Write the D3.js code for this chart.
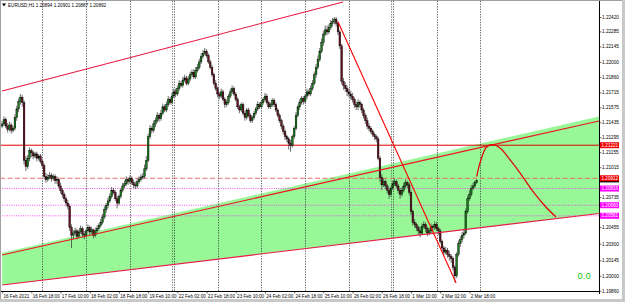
<!DOCTYPE html>
<html>
<head>
<meta charset="utf-8">
<script src="https://cdn.jsdelivr.net/npm/d3@7"></script>
<style>
  html, body { margin: 0; padding: 0; background: #fff; }
  svg { display: block; font-family: "Liberation Sans", Arial, sans-serif; }
</style>
</head>
<body>
<div id="chart"></div>
<script>
// EURUSD H1, 16 Feb 02:00 .. 2 Mar 22:00, prices in pips above 1.20000
const base = 1.2;
const firstOpen = 140;
const closes = [
  142,146,140,137,141,136,138,148,156,163,167,162,
  108,102,110,117,115,112,114,110,112,107,103,93,
  90,92,94,91,93,89,90,84,80,76,72,68,
  65,45,38,40,42,37,41,44,39,38,42,45,
  41,43,38,42,44,47,50,55,62,66,70,
  74,80,78,72,68,74,80,84,86,90,88,91,
  87,85,84,88,90,92,93,100,108,130,138,136,
  142,145,150,147,152,158,155,160,165,162,168,172,
  170,175,180,178,183,185,180,184,188,190,186,192,
  195,200,205,208,210,206,200,195,188,180,175,170,
  168,172,165,160,162,168,172,175,170,165,158,155,
  160,152,148,155,150,145,148,152,156,160,158,
  162,165,168,162,158,160,164,160,155,150,145,140,
  135,130,128,124,122,130,138,150,158,162,166,163,
  168,172,170,175,180,188,195,202,210,218,226,230,
  228,232,236,238,240,236,228,215,182,178,175,172,
  170,168,165,160,158,162,160,155,150,145,140,138,
  135,132,130,128,110,92,85,88,84,80,76,82,
  86,88,84,80,76,80,84,87,85,78,60,50,
  48,45,42,40,46,48,44,40,42,46,45,
  48,44,42,32,26,22,24,20,18,16,8,0,
  20,30,34,38,40,60,72,76,82,84,87,89
];
const highs = [
  145,149,148,143,144,143,140,151,159,166,170,169,
  164,112,113,120,119,117,116,116,114,114,109,105,
  96,95,97,96,95,95,93,92,87,82,78,74,
  71,67,48,43,45,44,43,47,46,42,44,48,
  47,46,44,45,47,49,53,58,65,68,73,
  77,83,82,80,75,76,82,87,89,93,92,94,
  93,90,88,91,93,95,96,104,112,133,141,140,
  145,148,153,152,155,161,160,163,168,167,171,175,
  175,178,183,182,186,188,187,187,191,193,193,195,
  198,203,208,211,213,212,208,202,197,190,183,177,
  172,175,174,167,165,170,175,178,177,172,167,160,
  162,162,154,157,157,152,150,154,158,163,162,
  164,167,171,170,164,162,166,166,162,157,152,147,
  142,137,132,130,127,132,140,153,160,165,168,168,
  170,175,174,178,183,191,198,206,213,222,229,234,
  234,235,239,241,242,242,238,230,217,185,181,178,
  175,173,171,167,163,165,164,162,157,152,148,143,
  140,137,134,132,130,112,95,91,90,86,82,84,
  89,91,90,86,82,83,87,90,89,87,80,62,
  53,50,47,46,49,51,50,46,45,49,48,
  51,50,46,44,34,28,27,26,23,20,18,10,
  22,33,37,41,44,63,75,80,85,87,89,90
];
const lows = [
  138,140,138,134,135,133,134,136,145,153,160,158,
  104,98,100,107,111,109,110,107,108,105,100,90,
  87,88,90,88,89,86,86,82,77,73,69,65,
  62,42,26,34,37,34,35,39,36,34,36,40,
  38,39,35,36,40,42,45,48,53,59,63,
  68,72,76,70,63,66,72,78,82,84,85,86,
  85,82,81,82,86,88,90,91,98,106,128,133,
  134,139,143,144,145,150,153,153,158,160,160,166,
  167,168,173,176,176,181,178,178,182,186,184,184,
  190,193,198,203,206,204,198,193,186,178,173,167,
  165,166,163,157,158,160,166,170,168,163,156,152,
  153,150,145,146,148,143,143,146,150,154,156,
  156,160,163,160,156,156,158,158,153,148,143,137,
  132,127,125,118,116,120,128,136,148,155,160,160,
  161,165,168,168,173,178,185,193,200,208,215,224,
  225,226,230,233,235,233,225,212,179,174,172,168,
  167,165,162,157,155,155,157,152,147,142,137,135,
  133,130,127,125,108,88,80,83,81,77,72,74,
  80,84,82,77,72,74,78,82,82,75,57,47,
  45,42,38,36,38,44,41,37,38,40,42,
  43,42,38,30,23,19,20,17,14,12,5,-6,
  -2,18,27,31,35,38,58,70,74,80,82,86
];

// time axis
const timeBars = [0,16,32,48,64,80,96,112,128,144,160,176,192,208,224,240,256];
const timeLabels = ['16 Feb 2021','16 Feb 18:00','17 Feb 10:00','18 Feb 02:00','18 Feb 18:00',
  '19 Feb 10:00','22 Feb 02:00','22 Feb 18:00','23 Feb 10:00','24 Feb 02:00','24 Feb 18:00',
  '25 Feb 10:00','26 Feb 02:00','26 Feb 18:00','1 Mar 10:00','2 Mar 02:00','2 Mar 18:00'];
const dayBars = [22,46,70,94,118,142,166,190,214,238,262];
const weekBars = [94,214];

// price axis (labels hidden behind the level tags are left out)
const priceTicks = [1.22420,1.22285,1.22145,1.22000,1.21860,1.21715,1.21575,1.21435,1.21295,
  1.21155,1.21015,1.20735,1.20455,1.20300,1.20145,1.20000,1.19860];

// horizontal levels
const levelPrices = [1.21221, 1.20912, 1.20816, 1.20660, 1.20561];
const bidPrice = 1.20892;

// trend lines [bar, price]
const upperLeftLine = [[0, 1.21728], [186.8, 1.22560]];
const fallLine = [[184.0, 1.22376], [248.7, 1.19933]];
const channelTop = [[0, 1.20195], [327, 1.21448]];
const channelBottom = [[0, 1.19914], [327, 1.20583]];
const fillTop = [[0, 1.20215], [327, 1.21490]];
// projected path [bar, price]
const projection = [[260.0, 1.20927], [261.8, 1.21055], [265.5, 1.21207], [268.8, 1.21226],
  [272.8, 1.21195], [278.3, 1.21083], [283.8, 1.20961], [290.9, 1.20787], [298.4, 1.20634], [303.5, 1.20550]];

const header = 'EURUSD,H1  1.20894 1.20901 1.20887 1.20892';

// ---------- drawing ----------
const W = 625, H = 302;
const plotRight = 599, plotBottom = 291;
const toPrice = v => base + v / 10000;

const xScale = d3.scaleLinear().domain([0, 327]).range([2.15, plotRight]);
const yScale = d3.scaleLinear().domain([1.19858, 1.22560]).range([plotBottom, 2]);

const svg = d3.select('#chart').append('svg').attr('width', W).attr('height', H);
svg.append('rect').attr('width', W).attr('height', H).attr('fill', '#fff');

const clip = svg.append('clipPath').attr('id', 'plot');
clip.append('rect').attr('x', 1).attr('y', 1).attr('width', plotRight - 1).attr('height', plotBottom - 1);
const plot = svg.append('g').attr('clip-path', 'url(#plot)');

// green channel
const area = [...fillTop, ...channelBottom.slice().reverse()];
plot.append('path')
  .attr('d', d3.line().x(d => xScale(d[0])).y(d => yScale(d[1]))(area) + 'Z')
  .attr('fill', '#98f898');

// day grid
plot.selectAll('line.grid').data(dayBars).enter().append('line')
  .attr('class', 'grid')
  .attr('x1', d => Math.round(xScale(d)) + 0.5).attr('x2', d => Math.round(xScale(d)) + 0.5)
  .attr('y1', 1).attr('y2', plotBottom)
  .attr('stroke', '#222').attr('stroke-width', 0.7).attr('stroke-dasharray', '1.3,1.3');
plot.selectAll('line.week').data(weekBars).enter().append('line')
  .attr('class', 'week')
  .attr('x1', d => Math.round(xScale(d)) - 1.5).attr('x2', d => Math.round(xScale(d)) - 1.5)
  .attr('y1', 1).attr('y2', plotBottom)
  .attr('stroke', '#444').attr('stroke-width', 0.7).attr('stroke-dasharray', '1.3,1.3');

// horizontal levels
const levelStroke = ['#e00000', '#e86060', '#f040f0', '#f040f0', '#f040f0'];
const levelDash = [null, '5,2.5', '1,1.3', '1,1.3', '1,1.3'];
plot.selectAll('line.level').data(levelPrices).enter().append('line')
  .attr('class', 'level')
  .attr('x1', 0).attr('x2', plotRight)
  .attr('y1', d => yScale(d)).attr('y2', d => yScale(d))
  .attr('stroke', (d, i) => levelStroke[i])
  .attr('stroke-width', (d, i) => i === 0 ? 1 : 0.9)
  .attr('stroke-dasharray', (d, i) => levelDash[i]);

// candles
const bars = closes.map((c, i) => ({
  i, o: toPrice(i ? closes[i - 1] : firstOpen), h: toPrice(highs[i]), l: toPrice(lows[i]), c: toPrice(c)
}));
const candles = plot.selectAll('g.candle').data(bars).enter().append('g').attr('class', 'candle');
candles.append('line')
  .attr('x1', d => xScale(d.i)).attr('x2', d => xScale(d.i))
  .attr('y1', d => yScale(d.h)).attr('y2', d => yScale(d.l))
  .attr('stroke', '#3c3c3c').attr('stroke-width', 0.75);
candles.append('rect')
  .attr('x', d => xScale(d.i) - 0.85).attr('width', 1.7)
  .attr('y', d => yScale(Math.max(d.o, d.c)))
  .attr('height', d => Math.max(0.6, Math.abs(yScale(d.o) - yScale(d.c))))
  .attr('fill', d => d.c >= d.o ? '#167a16' : '#641020')
  .attr('stroke', '#000').attr('stroke-width', 0.4);

// trend lines
const seg = d3.line().x(d => xScale(d[0])).y(d => yScale(d[1]));
plot.append('path').attr('d', seg(upperLeftLine)).attr('stroke', '#e8173d').attr('stroke-width', 1.1).attr('fill', 'none');
plot.append('path').attr('d', seg(channelTop)).attr('stroke', '#f01020').attr('stroke-width', 1.1).attr('fill', 'none');
plot.append('path').attr('d', seg(channelBottom)).attr('stroke', '#e81a48').attr('stroke-width', 1.1).attr('fill', 'none');
plot.append('path').attr('d', seg(fallLine)).attr('stroke', '#ff0000').attr('stroke-width', 1.1).attr('fill', 'none');
plot.append('path').attr('d', seg.curve(d3.curveCatmullRom)(projection))
  .attr('stroke', '#e00000').attr('stroke-width', 1.2).attr('fill', 'none');

// header
svg.append('path').attr('d', 'M2,3.5 L6,3.5 L4,6.5 Z').attr('fill', '#000');
svg.append('text').attr('x', 8).attr('y', 6.8).attr('font-size', 4.6).attr('fill', '#000').text(header);

// "0.0" label
svg.append('text').attr('x', 577.5).attr('y', 279).attr('font-size', 9.5).attr('fill', '#22c422').text('0.0');

// axes
const gy = svg.append('g').attr('transform', `translate(${plotRight},0)`)
  .call(d3.axisRight(yScale).tickValues(priceTicks).tickFormat(d3.format('.5f')).tickSize(2.5).tickSizeOuter(0));
gy.select('.domain').remove();
gy.selectAll('line').attr('stroke', '#000').attr('stroke-width', 0.6);
gy.selectAll('text').attr('x', 3).attr('font-size', 4.7).attr('fill', '#000').attr('font-family', '"Liberation Sans", Arial, sans-serif');

const gx = svg.append('g').attr('transform', `translate(0,${plotBottom})`)
  .call(d3.axisBottom(xScale).tickValues(timeBars).tickFormat((d, i) => timeLabels[i]).tickSize(2.5).tickSizeOuter(0));
gx.select('.domain').remove();
gx.selectAll('line').attr('stroke', '#000').attr('stroke-width', 0.6);
gx.selectAll('text').attr('text-anchor', 'start').attr('x', 0.8).attr('y', 4.2)
  .attr('font-size', 4.6).attr('fill', '#000').attr('font-family', '"Liberation Sans", Arial, sans-serif');

// frame
svg.append('line').attr('x1', plotRight + 0.5).attr('x2', plotRight + 0.5).attr('y1', 0).attr('y2', plotBottom + 3).attr('stroke', '#000').attr('stroke-width', 1);
svg.append('line').attr('x1', 0).attr('x2', plotRight + 1).attr('y1', plotBottom + 0.5).attr('y2', plotBottom + 0.5).attr('stroke', '#000').attr('stroke-width', 1);
svg.append('rect').attr('x', 0).attr('y', 0).attr('width', W).attr('height', 1).attr('fill', '#a0a0a0');
svg.append('rect').attr('x', 0).attr('y', 0).attr('width', 1).attr('height', H).attr('fill', '#a0a0a0');
svg.append('rect').attr('x', W - 3).attr('y', 0).attr('width', 3).attr('height', H).attr('fill', '#c8c8c8');
svg.append('rect').attr('x', 0).attr('y', H - 3).attr('width', W).attr('height', 3).attr('fill', '#c8c8c8');

// bid marker (its text sits under the level tag, as in the terminal)
svg.append('rect').attr('x', plotRight + 1).attr('y', yScale(bidPrice) - 1).attr('width', 19).attr('height', 3).attr('fill', '#000');

// level tags on the axis
const tagFill = ['#f00000', '#f00000', '#ff00ff', '#ff00ff', '#ff00ff'];
const tagG = svg.selectAll('g.tag').data(levelPrices).enter().append('g').attr('class', 'tag')
  .attr('transform', d => `translate(${plotRight + 1},${yScale(d)})`);
tagG.append('rect').attr('x', 0).attr('y', -3).attr('width', 19).attr('height', 6).attr('fill', (d, i) => tagFill[i]);
tagG.append('text').attr('x', 1.5).attr('dy', '0.35em').attr('font-size', 4.6).attr('fill', '#fff')
  .text(d => d3.format('.5f')(d));
</script>
</body>
</html>
